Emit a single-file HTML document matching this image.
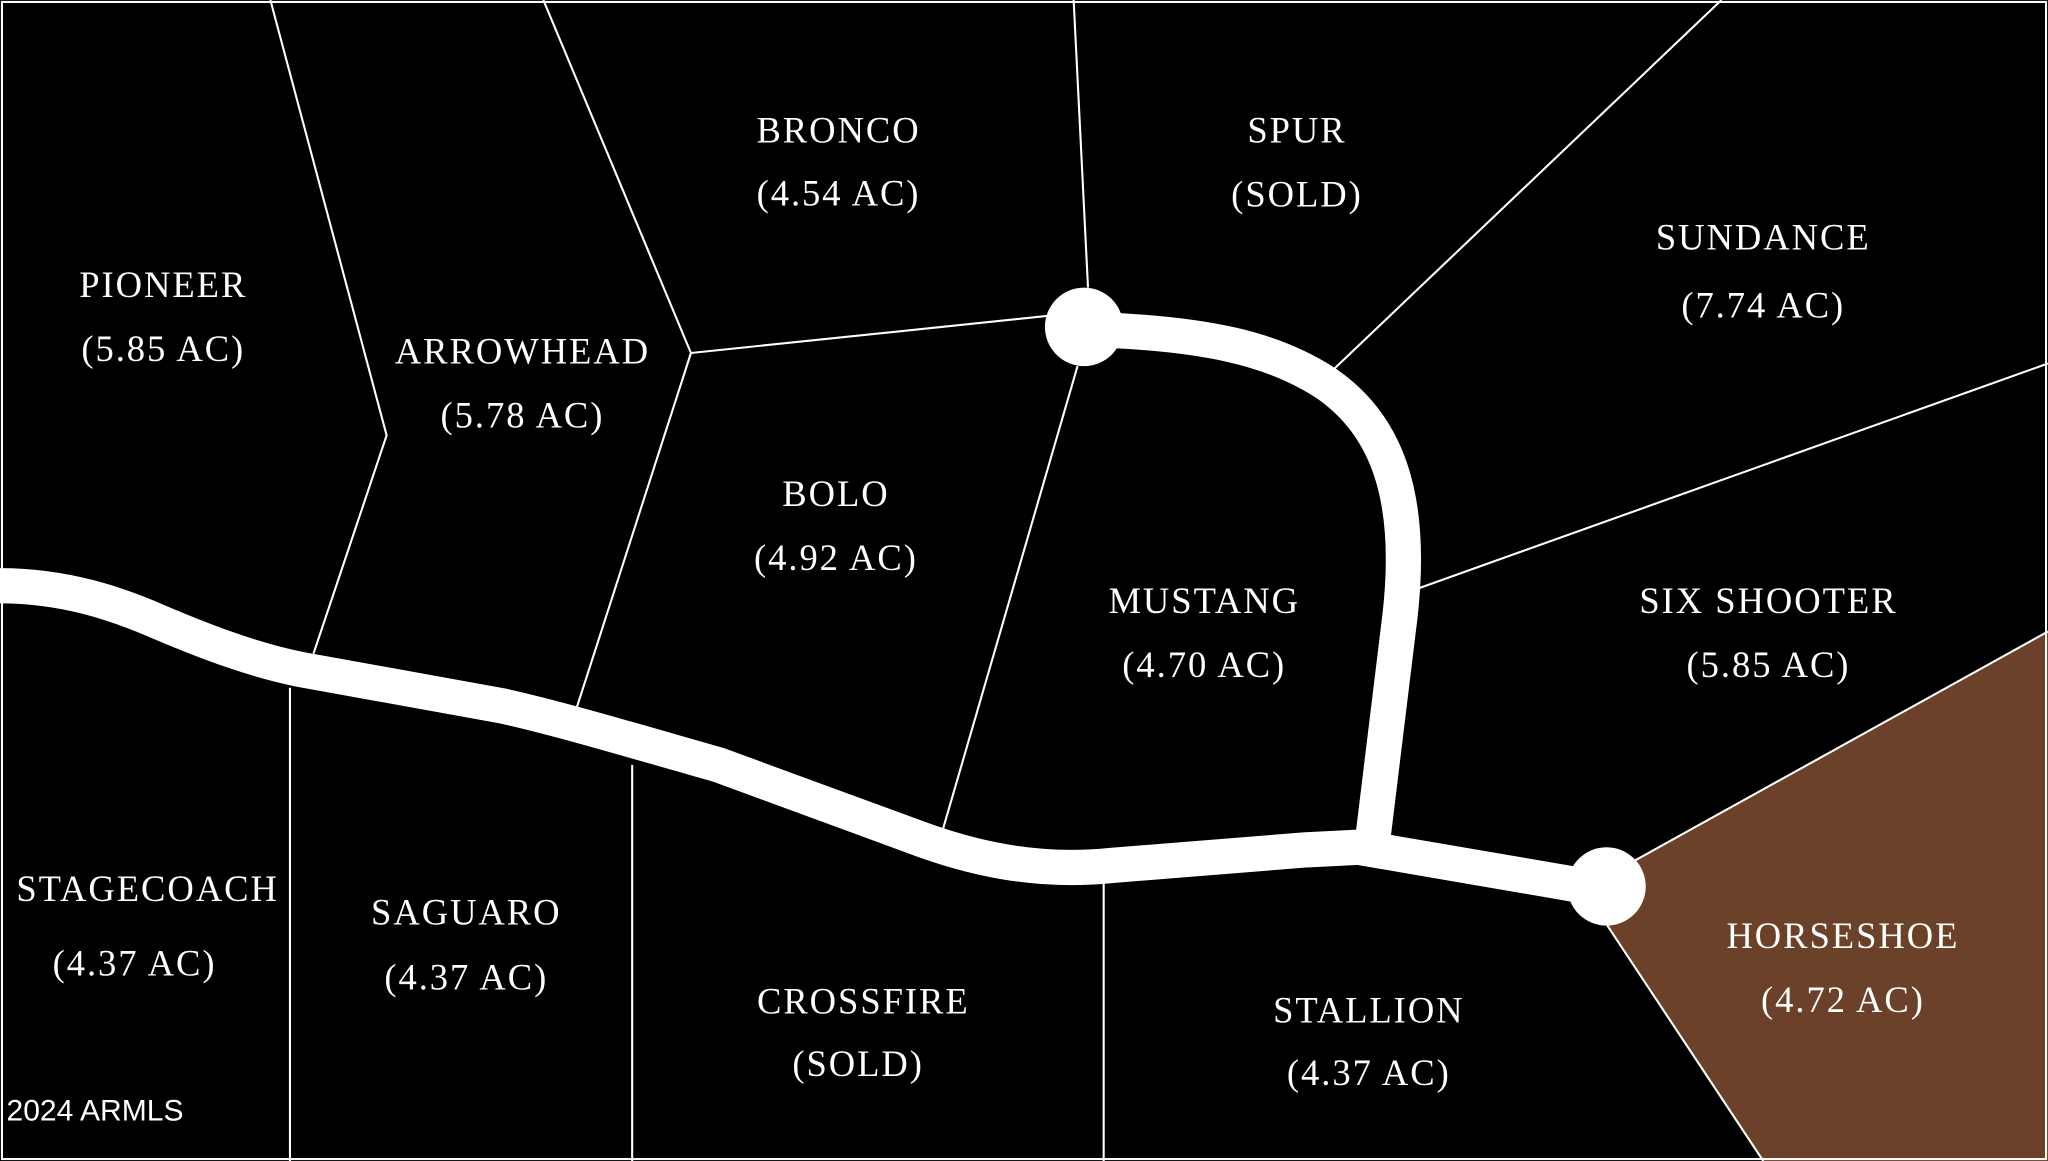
<!DOCTYPE html>
<html><head><meta charset="utf-8"><style>
html,body{margin:0;padding:0;background:#000;}
svg{display:block;}
text{font-family:"Liberation Serif",serif;fill:#fff;font-size:28px;text-anchor:middle;letter-spacing:1.5px;}
</style></head><body>
<svg width="2048" height="1161" viewBox="0 0 1568 888" preserveAspectRatio="none" xmlns="http://www.w3.org/2000/svg">
<rect x="0" y="0" width="1568" height="888" fill="#000"/>
<polygon points="1252,658 1568,483 1568,888 1350,888 1230,707 1215,690" fill="#6b412a"/>
<g stroke="#fff" stroke-width="1.6" fill="none">
<rect x="1.5" y="1.5" width="1565" height="885"/>
<polyline points="207,0 296,333 240,500"/>
<polyline points="416,0 529,270 441,543"/>
<polyline points="529,270 808,241"/>
<polyline points="822,0 833,220"/>
<polyline points="825,280 722,634"/>
<polyline points="1318,0 1010,293"/>
<polyline points="1086,450 1568,278"/>
<polyline points="1252,658 1568,483"/>
<polyline points="1230,707 1350,888"/>
<line x1="222" y1="526" x2="222" y2="888"/>
<line x1="484" y1="585" x2="484" y2="888"/>
<line x1="845" y1="673" x2="845" y2="888"/>
</g>
<g stroke="#fff" stroke-width="27" fill="none" stroke-linejoin="round">
<path d="M0,448 C50,448 90,462 120,475 C160,492 195,505 230,512 L385,540 C430,550 490,568 550,585 L700,640 C740,655 790,668 850,662 L1000,650 L1040,648 L1215,678"/>
<path d="M1050,650 L1072,470 C1082,380 1062,325 1015,293 C975,267 925,255 835,252"/>
</g>
<circle cx="1230" cy="678" r="30" fill="#fff"/>
<circle cx="830" cy="250" r="30" fill="#fff"/>
<text x="125" y="227">PIONEER</text><text x="125" y="276">(5.85 AC)</text>
<text x="400" y="278">ARROWHEAD</text><text x="400" y="327">(5.78 AC)</text>
<text x="642" y="109">BRONCO</text><text x="642" y="157">(4.54 AC)</text>
<text x="993" y="109">SPUR</text><text x="993" y="158">(SOLD)</text>
<text x="1350" y="191">SUNDANCE</text><text x="1350" y="243">(7.74 AC)</text>
<text x="640" y="387">BOLO</text><text x="640" y="436">(4.92 AC)</text>
<text x="922" y="469">MUSTANG</text><text x="922" y="518">(4.70 AC)</text>
<text x="1354" y="469">SIX SHOOTER</text><text x="1354" y="518">(5.85 AC)</text>
<text x="113" y="689">STAGECOACH</text><text x="103" y="746">(4.37 AC)</text>
<text x="357" y="707">SAGUARO</text><text x="357" y="757">(4.37 AC)</text>
<text x="661" y="775">CROSSFIRE</text><text x="657" y="823">(SOLD)</text>
<text x="1048" y="782">STALLION</text><text x="1048" y="830">(4.37 AC)</text>
<text x="1411" y="725">HORSESHOE</text><text x="1411" y="774">(4.72 AC)</text>
<text x="5" y="857" style="font-family:'Liberation Sans',sans-serif;font-size:23px;text-anchor:start;letter-spacing:0">2024 ARMLS</text>
</svg>
</body></html>
